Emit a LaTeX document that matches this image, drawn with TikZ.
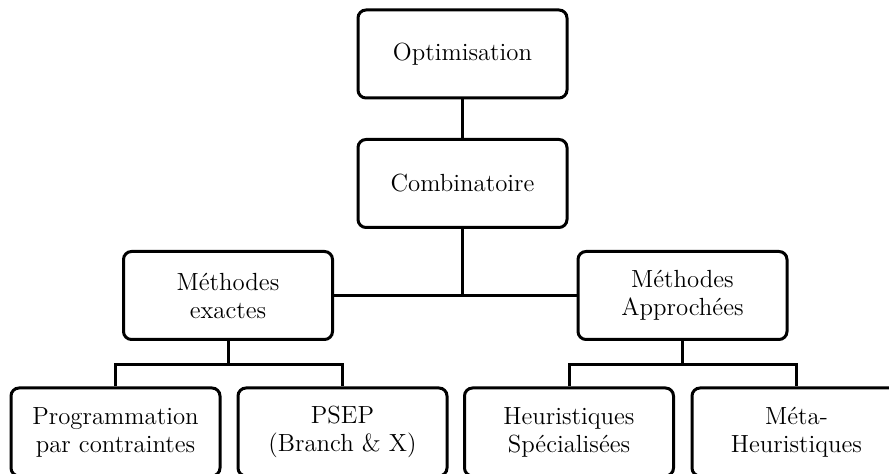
\documentclass[tikz,border=0pt]{standalone}
\begin{document}
\begin{tikzpicture}[x=0.5pt,y=-0.5pt,
  box/.style={draw, line width=1.5pt, rounded corners=4pt,
    minimum width=104.5pt, minimum height=44pt, inner sep=0pt,
    align=center, font=\fontsize{12.4}{14}\selectfont},
  link/.style={line width=1.5pt}]
\useasboundingbox (0,0) rectangle (889,474);
\clip (0,0) rectangle (889,474);

% hierarchy of boxes
\node[box] (opt)  at (462.5,54)    {Optimisation};
\node[box] (comb) at (462.5,183.5) {Combinatoire};
\node[box] (exa)  at (228,295.5)   {Méthodes\\exactes};
\node[box] (app)  at (682.5,295.5) {Méthodes\\Approchées};
\node[box] (prog) at (115.5,432)   {Programmation\\par contraintes};
\node[box] (psep) at (342.5,432)   {PSEP\\(Branch \& X)};
\node[box] (heur) at (569,432)     {Heuristiques\\Spécialisées};
\node[box] (meta) at (796.5,432)   {Méta-\\Heuristiques};

% junction points of the tree
\coordinate (j1) at (comb.south |- exa.east);
\coordinate (je) at (228,365);
\coordinate (ja) at (682.5,365);

\draw[link] (opt) -- (comb);
\draw[link] (comb) -- (j1);
\draw[link] (exa.east) -- (app.west);
\draw[link] (exa) -- (je);
\draw[link] (prog.north) |- (je) -| (psep.north);
\draw[link] (app) -- (ja);
\draw[link] (heur.north) |- (ja) -| (meta.north);
\end{tikzpicture}
\end{document}
